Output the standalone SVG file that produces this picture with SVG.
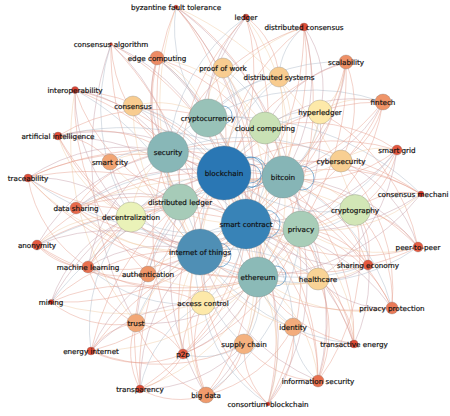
<svg xmlns="http://www.w3.org/2000/svg" width="450" height="416" viewBox="0 0 450 416">
<style>
.bg{fill:#ffffff}
#edges path{fill:none;stroke-width:0.75;opacity:0.6}
#edges .a{stroke:#e49a88}
#edges .b{stroke:#c29aa6}
#edges .c{stroke:#f0c9a0}
#edges .d{stroke:#aab8c6}
#loops circle{fill:none;stroke:#3f86bd;stroke-width:1;opacity:0.6}
.node circle{stroke:#777;stroke-width:0.5;stroke-opacity:0.6}
.node text{font-family:"DejaVu Sans",sans-serif;font-size:7.2px;fill:#111;text-anchor:middle;stroke:#111;stroke-width:0.18}
</style>
<rect class="bg" x="0" y="0" width="450" height="416"/>
<g id="edges">
<path class="a" d="M176 7A208 208 0 0 1 224 173"/>
<path class="b" d="M176 7A274 274 0 0 1 246 224"/>
<path class="c" d="M176 7A295 295 0 0 0 200 252"/>
<path class="a" d="M176 7A241 241 0 0 1 283 177"/>
<path class="d" d="M176 7A139 139 0 0 0 208 118"/>
<path class="a" d="M176 7A338 338 0 0 1 258 277"/>
<path class="b" d="M176 7A306 306 0 0 1 301 229"/>
<path class="a" d="M176 7A234 234 0 0 0 180 202"/>
<path class="c" d="M176 7A325 325 0 0 1 355 210"/>
<path class="b" d="M111 44A206 206 0 0 1 224 173"/>
<path class="a" d="M111 44A146 146 0 0 0 168 152"/>
<path class="b" d="M111 44A207 207 0 0 1 180 202"/>
<path class="a" d="M111 44A271 271 0 0 0 200 252"/>
<path class="d" d="M111 44A209 209 0 0 0 131 217"/>
<path class="a" d="M111 44A270 270 0 0 1 246 224"/>
<path class="b" d="M111 44A336 336 0 0 0 136 323"/>
<path class="a" d="M111 44A330 330 0 0 1 203 303"/>
<path class="a" d="M157 58A160 160 0 0 1 224 173"/>
<path class="c" d="M157 58A95 95 0 0 1 208 118"/>
<path class="b" d="M157 58A113 113 0 0 0 168 152"/>
<path class="a" d="M157 58A208 208 0 0 1 283 177"/>
<path class="d" d="M157 58A226 226 0 0 1 246 224"/>
<path class="a" d="M157 58A239 239 0 0 0 200 252"/>
<path class="c" d="M157 58A155 155 0 0 1 265 128"/>
<path class="b" d="M157 58A289 289 0 0 1 258 277"/>
<path class="a" d="M157 58A175 175 0 0 0 180 202"/>
<path class="a" d="M75 90A204 204 0 0 1 224 173"/>
<path class="b" d="M75 90A134 134 0 0 1 168 152"/>
<path class="a" d="M75 90A184 184 0 0 0 180 202"/>
<path class="d" d="M75 90A246 246 0 0 1 200 252"/>
<path class="a" d="M75 90A260 260 0 0 1 246 224"/>
<path class="b" d="M75 90A167 167 0 0 0 131 217"/>
<path class="a" d="M75 90A238 238 0 0 0 148 274"/>
<path class="c" d="M75 90A289 289 0 0 0 136 323"/>
<path class="a" d="M75 90A314 314 0 0 1 258 277"/>
<path class="b" d="M58 136A204 204 0 0 1 224 173"/>
<path class="a" d="M58 136A133 133 0 0 1 168 152"/>
<path class="a" d="M58 136A68 68 0 0 1 110 162"/>
<path class="c" d="M58 136A131 131 0 0 0 131 217"/>
<path class="a" d="M58 136A220 220 0 0 0 200 252"/>
<path class="b" d="M58 136A250 250 0 0 1 246 224"/>
<path class="d" d="M58 136A275 275 0 0 1 283 177"/>
<path class="a" d="M58 136A181 181 0 0 1 208 118"/>
<path class="a" d="M58 136A294 294 0 0 0 258 277"/>
<path class="a" d="M28 178A235 235 0 0 1 224 173"/>
<path class="b" d="M28 178A173 173 0 0 1 168 152"/>
<path class="a" d="M28 178A185 185 0 0 0 180 202"/>
<path class="c" d="M28 178A224 224 0 0 0 200 252"/>
<path class="a" d="M28 178A268 268 0 0 1 246 224"/>
<path class="b" d="M28 178A132 132 0 0 1 131 217"/>
<path class="a" d="M28 178A306 306 0 0 1 283 177"/>
<path class="a" d="M28 178A130 130 0 0 0 88 267"/>
<path class="d" d="M28 178A334 334 0 0 0 301 229"/>
<path class="a" d="M28 178A300 300 0 0 0 258 277"/>
<path class="b" d="M76 208A182 182 0 0 1 224 173"/>
<path class="a" d="M76 208A130 130 0 0 1 168 152"/>
<path class="c" d="M76 208A158 158 0 0 0 200 252"/>
<path class="a" d="M76 208A205 205 0 0 1 246 224"/>
<path class="b" d="M76 208A125 125 0 0 1 180 202"/>
<path class="a" d="M76 208A271 271 0 0 0 301 229"/>
<path class="d" d="M76 208A251 251 0 0 1 283 177"/>
<path class="a" d="M76 208A233 233 0 0 0 258 277"/>
<path class="c" d="M76 208A335 335 0 0 1 355 210"/>
<path class="a" d="M37 245A240 240 0 0 1 224 173"/>
<path class="b" d="M37 245A196 196 0 0 1 200 252"/>
<path class="a" d="M37 245A252 252 0 0 1 246 224"/>
<path class="c" d="M37 245A118 118 0 0 1 131 217"/>
<path class="a" d="M37 245A67 67 0 0 0 88 267"/>
<path class="b" d="M37 245A192 192 0 0 1 168 152"/>
<path class="a" d="M37 245A268 268 0 0 0 258 277"/>
<path class="d" d="M37 245A317 317 0 0 1 301 229"/>
<path class="a" d="M37 245A138 138 0 0 0 148 274"/>
<path class="a" d="M88 267A198 198 0 0 1 224 173"/>
<path class="b" d="M88 267A136 136 0 0 1 200 252"/>
<path class="a" d="M88 267A197 197 0 0 0 246 224"/>
<path class="c" d="M88 267A79 79 0 0 1 131 217"/>
<path class="a" d="M88 267A136 136 0 0 1 180 202"/>
<path class="b" d="M88 267A168 168 0 0 1 168 152"/>
<path class="a" d="M88 267A204 204 0 0 0 258 277"/>
<path class="a" d="M88 267A89 89 0 0 0 136 323"/>
<path class="d" d="M88 267A145 145 0 0 0 203 303"/>
<path class="a" d="M88 267A258 258 0 0 1 283 177"/>
<path class="b" d="M51 302A259 259 0 0 1 224 173"/>
<path class="a" d="M51 302A188 188 0 0 1 200 252"/>
<path class="a" d="M51 302A252 252 0 0 0 246 224"/>
<path class="c" d="M51 302A250 250 0 0 0 258 277"/>
<path class="a" d="M51 302A106 106 0 0 0 136 323"/>
<path class="b" d="M51 302A140 140 0 0 1 131 217"/>
<path class="a" d="M51 302A182 182 0 0 1 203 303"/>
<path class="d" d="M51 302A317 317 0 0 1 283 177"/>
<path class="a" d="M91 351A266 266 0 0 1 224 173"/>
<path class="b" d="M91 351A178 178 0 0 1 200 252"/>
<path class="a" d="M91 351A240 240 0 0 0 246 224"/>
<path class="c" d="M91 351A220 220 0 0 0 258 277"/>
<path class="a" d="M91 351A64 64 0 0 1 136 323"/>
<path class="a" d="M91 351A110 110 0 0 0 183 354"/>
<path class="b" d="M91 351A146 146 0 0 1 203 303"/>
<path class="a" d="M91 351A184 184 0 0 0 244 344"/>
<path class="d" d="M91 351A168 168 0 0 1 131 217"/>
<path class="a" d="M91 351A292 292 0 0 1 301 229"/>
<path class="a" d="M140 389A278 278 0 0 1 224 173"/>
<path class="b" d="M140 389A180 180 0 0 1 200 252"/>
<path class="a" d="M140 389A235 235 0 0 0 246 224"/>
<path class="c" d="M140 389A196 196 0 0 0 258 277"/>
<path class="a" d="M140 389A79 79 0 0 1 136 323"/>
<path class="a" d="M140 389A66 66 0 0 0 183 354"/>
<path class="d" d="M140 389A127 127 0 0 1 203 303"/>
<path class="a" d="M140 389A80 80 0 0 0 206 395"/>
<path class="b" d="M140 389A136 136 0 0 0 244 344"/>
<path class="a" d="M140 389A229 229 0 0 1 180 202"/>
<path class="a" d="M183 354A223 223 0 0 1 224 173"/>
<path class="c" d="M183 354A124 124 0 0 1 200 252"/>
<path class="a" d="M183 354A174 174 0 0 0 246 224"/>
<path class="b" d="M183 354A129 129 0 0 0 258 277"/>
<path class="a" d="M183 354A66 66 0 0 1 203 303"/>
<path class="a" d="M183 354A68 68 0 0 0 136 323"/>
<path class="d" d="M183 354A74 74 0 0 0 244 344"/>
<path class="a" d="M183 354A206 206 0 0 0 301 229"/>
<path class="b" d="M183 354A244 244 0 0 0 283 177"/>
<path class="a" d="M183 354A243 243 0 0 1 168 152"/>
<path class="a" d="M206 395A268 268 0 0 1 224 173"/>
<path class="c" d="M206 395A172 172 0 0 1 200 252"/>
<path class="a" d="M206 395A211 211 0 0 0 246 224"/>
<path class="b" d="M206 395A155 155 0 0 0 258 277"/>
<path class="a" d="M206 395A76 76 0 0 0 244 344"/>
<path class="a" d="M206 395A110 110 0 0 1 203 303"/>
<path class="d" d="M206 395A229 229 0 0 0 301 229"/>
<path class="a" d="M206 395A132 132 0 0 0 293 327"/>
<path class="b" d="M206 395A234 234 0 0 1 180 202"/>
<path class="a" d="M206 395A120 120 0 0 1 136 323"/>
<path class="a" d="M268 404A282 282 0 0 0 224 173"/>
<path class="b" d="M268 404A218 218 0 0 0 246 224"/>
<path class="a" d="M268 404A200 200 0 0 1 200 252"/>
<path class="c" d="M268 404A153 153 0 0 0 258 277"/>
<path class="a" d="M268 404A78 78 0 0 1 244 344"/>
<path class="a" d="M268 404A97 97 0 0 0 293 327"/>
<path class="d" d="M268 404A144 144 0 0 1 203 303"/>
<path class="a" d="M268 404A273 273 0 0 0 283 177"/>
<path class="b" d="M268 404A214 214 0 0 0 301 229"/>
<path class="a" d="M318 381A274 274 0 0 0 224 173"/>
<path class="a" d="M318 381A207 207 0 0 0 246 224"/>
<path class="b" d="M318 381A210 210 0 0 1 200 252"/>
<path class="c" d="M318 381A144 144 0 0 0 258 277"/>
<path class="a" d="M318 381A184 184 0 0 0 301 229"/>
<path class="d" d="M318 381A71 71 0 0 1 293 327"/>
<path class="a" d="M318 381A122 122 0 0 0 318 279"/>
<path class="b" d="M318 381A248 248 0 0 0 283 177"/>
<path class="a" d="M318 381A99 99 0 0 1 244 344"/>
<path class="a" d="M318 381A210 210 0 0 0 355 210"/>
<path class="a" d="M354 344A258 258 0 0 0 224 173"/>
<path class="b" d="M354 344A194 194 0 0 0 246 224"/>
<path class="a" d="M354 344A141 141 0 0 1 258 277"/>
<path class="c" d="M354 344A152 152 0 0 0 301 229"/>
<path class="a" d="M354 344A89 89 0 0 0 318 279"/>
<path class="d" d="M354 344A215 215 0 0 1 200 252"/>
<path class="a" d="M354 344A218 218 0 0 0 283 177"/>
<path class="b" d="M354 344A161 161 0 0 0 355 210"/>
<path class="a" d="M354 344A76 76 0 0 1 293 327"/>
<path class="a" d="M354 344A321 321 0 0 0 168 152"/>
<path class="a" d="M392 308A258 258 0 0 0 224 173"/>
<path class="b" d="M392 308A202 202 0 0 0 246 224"/>
<path class="a" d="M392 308A145 145 0 0 0 301 229"/>
<path class="c" d="M392 308A165 165 0 0 1 258 277"/>
<path class="a" d="M392 308A240 240 0 0 1 200 252"/>
<path class="d" d="M392 308A205 205 0 0 0 283 177"/>
<path class="a" d="M392 308A126 126 0 0 0 355 210"/>
<path class="b" d="M392 308A95 95 0 0 1 318 279"/>
<path class="a" d="M392 308A187 187 0 0 0 341 161"/>
<path class="a" d="M368 265A205 205 0 0 0 224 173"/>
<path class="b" d="M368 265A154 154 0 0 1 246 224"/>
<path class="a" d="M368 265A91 91 0 0 0 301 229"/>
<path class="c" d="M368 265A133 133 0 0 1 258 277"/>
<path class="a" d="M368 265A147 147 0 0 0 283 177"/>
<path class="d" d="M368 265A202 202 0 0 1 200 252"/>
<path class="a" d="M368 265A68 68 0 0 0 355 210"/>
<path class="b" d="M368 265A62 62 0 0 1 318 279"/>
<path class="a" d="M418 247A250 250 0 0 0 224 173"/>
<path class="a" d="M418 247A208 208 0 0 1 246 224"/>
<path class="b" d="M418 247A182 182 0 0 0 283 177"/>
<path class="c" d="M418 247A142 142 0 0 1 301 229"/>
<path class="a" d="M418 247A88 88 0 0 0 355 210"/>
<path class="d" d="M418 247A195 195 0 0 1 258 277"/>
<path class="a" d="M418 247A262 262 0 0 1 200 252"/>
<path class="b" d="M418 247A138 138 0 0 0 341 161"/>
<path class="a" d="M418 247A200 200 0 0 0 320 112"/>
<path class="a" d="M421 194A238 238 0 0 0 224 173"/>
<path class="b" d="M421 194A213 213 0 0 1 246 224"/>
<path class="a" d="M421 194A167 167 0 0 0 283 177"/>
<path class="c" d="M421 194A150 150 0 0 1 301 229"/>
<path class="a" d="M421 194A82 82 0 0 0 355 210"/>
<path class="d" d="M421 194A271 271 0 0 0 208 118"/>
<path class="a" d="M421 194A308 308 0 0 0 168 152"/>
<path class="b" d="M421 194A219 219 0 0 1 258 277"/>
<path class="a" d="M397 150A210 210 0 0 0 224 173"/>
<path class="a" d="M397 150A141 141 0 0 1 283 177"/>
<path class="b" d="M397 150A202 202 0 0 1 246 224"/>
<path class="c" d="M397 150A69 69 0 0 0 341 161"/>
<path class="a" d="M397 150A88 88 0 0 1 355 210"/>
<path class="d" d="M397 150A266 266 0 0 1 200 252"/>
<path class="a" d="M397 150A149 149 0 0 1 301 229"/>
<path class="b" d="M397 150A182 182 0 0 1 318 279"/>
<path class="a" d="M397 150A161 161 0 0 0 265 128"/>
<path class="a" d="M383 102A209 209 0 0 0 224 173"/>
<path class="b" d="M383 102A150 150 0 0 1 283 177"/>
<path class="c" d="M383 102A77 77 0 0 0 320 112"/>
<path class="a" d="M383 102A220 220 0 0 1 246 224"/>
<path class="d" d="M383 102A211 211 0 0 0 208 118"/>
<path class="a" d="M383 102A87 87 0 0 1 341 161"/>
<path class="b" d="M383 102A145 145 0 0 0 265 128"/>
<path class="a" d="M383 102A181 181 0 0 1 301 229"/>
<path class="a" d="M383 102A272 272 0 0 1 180 202"/>
<path class="a" d="M346 62A198 198 0 0 0 224 173"/>
<path class="b" d="M346 62A157 157 0 0 1 283 177"/>
<path class="c" d="M346 62A68 68 0 0 1 320 112"/>
<path class="a" d="M346 62A228 228 0 0 1 246 224"/>
<path class="d" d="M346 62A179 179 0 0 0 208 118"/>
<path class="a" d="M346 62A288 288 0 0 1 200 252"/>
<path class="b" d="M346 62A125 125 0 0 0 265 128"/>
<path class="a" d="M346 62A279 279 0 0 1 258 277"/>
<path class="a" d="M346 62A119 119 0 0 1 341 161"/>
<path class="a" d="M304 27A199 199 0 0 0 224 173"/>
<path class="b" d="M304 27A182 182 0 0 1 283 177"/>
<path class="c" d="M304 27A159 159 0 0 0 208 118"/>
<path class="a" d="M304 27A246 246 0 0 1 246 224"/>
<path class="d" d="M304 27A67 67 0 0 0 279 77"/>
<path class="a" d="M304 27A297 297 0 0 1 200 252"/>
<path class="b" d="M304 27A104 104 0 0 1 320 112"/>
<path class="a" d="M304 27A222 222 0 0 0 168 152"/>
<path class="a" d="M304 27A305 305 0 0 1 258 277"/>
<path class="a" d="M246 17A188 188 0 0 1 224 173"/>
<path class="b" d="M246 17A130 130 0 0 0 208 118"/>
<path class="c" d="M246 17A197 197 0 0 1 283 177"/>
<path class="a" d="M246 17A248 248 0 0 1 246 224"/>
<path class="d" d="M246 17A187 187 0 0 0 168 152"/>
<path class="a" d="M246 17A82 82 0 0 1 279 77"/>
<path class="b" d="M246 17A287 287 0 0 0 200 252"/>
<path class="a" d="M246 17A236 236 0 0 0 180 202"/>
<path class="d" d="M168 152A62 62 0 0 1 208 118"/>
<path class="c" d="M168 152A62 62 0 0 0 180 202"/>
<path class="d" d="M168 152A126 126 0 0 0 200 252"/>
<path class="b" d="M168 152A127 127 0 0 1 246 224"/>
<path class="d" d="M168 152A141 141 0 0 1 283 177"/>
<path class="c" d="M208 118A115 115 0 0 1 283 177"/>
<path class="d" d="M208 118A70 70 0 0 1 265 128"/>
<path class="b" d="M208 118A135 135 0 0 1 246 224"/>
<path class="c" d="M208 118A200 200 0 0 1 258 277"/>
<path class="d" d="M283 177A72 72 0 0 1 246 224"/>
<path class="c" d="M283 177A124 124 0 0 1 258 277"/>
<path class="d" d="M283 177A66 66 0 0 1 301 229"/>
<path class="b" d="M283 177A72 72 0 0 1 341 161"/>
<path class="c" d="M283 177A95 95 0 0 1 355 210"/>
<path class="d" d="M246 224A65 65 0 0 1 200 252"/>
<path class="c" d="M246 224A65 65 0 0 1 258 277"/>
<path class="d" d="M246 224A66 66 0 0 1 301 229"/>
<path class="b" d="M246 224A84 84 0 0 0 180 202"/>
<path class="d" d="M200 252A76 76 0 0 0 258 277"/>
<path class="c" d="M200 252A65 65 0 0 1 180 202"/>
<path class="d" d="M200 252A93 93 0 0 1 131 217"/>
<path class="c" d="M200 252A68 68 0 0 0 148 274"/>
<path class="d" d="M200 252A61 61 0 0 0 203 303"/>
<path class="c" d="M180 202A62 62 0 0 0 131 217"/>
<path class="d" d="M301 229A69 69 0 0 0 355 210"/>
<path class="c" d="M301 229A77 77 0 0 1 258 277"/>
<path class="d" d="M301 229A63 63 0 0 1 318 279"/>
<path class="c" d="M258 277A72 72 0 0 0 318 279"/>
<path class="d" d="M258 277A82 82 0 0 1 244 344"/>
<path class="c" d="M258 277A73 73 0 0 0 293 327"/>
<path class="d" d="M203 303A108 108 0 0 0 246 224"/>
<path class="c" d="M203 303A72 72 0 0 0 258 277"/>
<path class="d" d="M320 112A85 85 0 0 1 283 177"/>
<path class="c" d="M320 112A158 158 0 0 1 246 224"/>
<path class="b" d="M320 112A204 204 0 0 1 258 277"/>
<path class="d" d="M320 112A69 69 0 0 0 265 128"/>
<path class="c" d="M265 128A63 63 0 0 1 283 177"/>
<path class="d" d="M265 128A117 117 0 0 1 246 224"/>
<path class="c" d="M265 128A168 168 0 0 0 200 252"/>
<path class="d" d="M341 161A208 208 0 0 0 168 152"/>
<path class="c" d="M355 210A132 132 0 0 1 246 224"/>
<path class="d" d="M131 217A138 138 0 0 0 246 224"/>
<path class="c" d="M131 217A90 90 0 0 1 168 152"/>
<path class="b" d="M133 106A70 70 0 0 1 168 152"/>
<path class="c" d="M133 106A91 91 0 0 1 208 118"/>
<path class="d" d="M133 106A196 196 0 0 1 246 224"/>
<path class="c" d="M133 106A192 192 0 0 0 200 252"/>
<path class="d" d="M133 106A136 136 0 0 1 224 173"/>
<path class="c" d="M223 68A61 61 0 0 0 208 118"/>
<path class="d" d="M223 68A149 149 0 0 1 283 177"/>
<path class="b" d="M223 68A189 189 0 0 1 246 224"/>
<path class="c" d="M223 68A252 252 0 0 1 258 277"/>
<path class="d" d="M279 77A104 104 0 0 0 208 118"/>
<path class="c" d="M279 77A181 181 0 0 1 246 224"/>
<path class="d" d="M279 77A228 228 0 0 0 200 252"/>
<path class="c" d="M279 77A120 120 0 0 1 283 177"/>
<path class="b" d="M110 162A128 128 0 0 0 200 252"/>
<path class="d" d="M110 162A71 71 0 0 1 168 152"/>
<path class="c" d="M110 162A174 174 0 0 0 246 224"/>
<path class="d" d="M136 323A115 115 0 0 1 200 252"/>
<path class="c" d="M136 323A175 175 0 0 1 246 224"/>
<path class="b" d="M136 323A151 151 0 0 0 258 277"/>
<path class="d" d="M148 274A134 134 0 0 1 246 224"/>
<path class="c" d="M148 274A132 132 0 0 0 258 277"/>
<path class="d" d="M293 327A132 132 0 0 0 246 224"/>
<path class="c" d="M293 327A144 144 0 0 1 200 252"/>
<path class="d" d="M244 344A122 122 0 0 1 200 252"/>
<path class="c" d="M244 344A144 144 0 0 0 246 224"/>
<path class="d" d="M318 279A149 149 0 0 0 200 252"/>
<path class="c" d="M318 279A110 110 0 0 0 246 224"/>
<path class="d" d="M224 173A136 136 0 0 1 320 112"/>
<path class="c" d="M224 173A142 142 0 0 0 341 161"/>
<path class="d" d="M224 173A162 162 0 0 0 355 210"/>
<path class="c" d="M224 173A166 166 0 0 0 318 279"/>
<path class="d" d="M224 173A196 196 0 0 0 293 327"/>
<path class="c" d="M224 173A206 206 0 0 1 244 344"/>
<path class="b" d="M224 173A207 207 0 0 0 136 323"/>
<path class="d" d="M224 173A151 151 0 0 0 148 274"/>
<path class="c" d="M224 173A157 157 0 0 1 203 303"/>
<path class="d" d="M224 173A126 126 0 0 0 131 217"/>
<path class="c" d="M224 173A114 114 0 0 0 110 162"/>
<path class="d" d="M224 173A105 105 0 0 0 223 68"/>
<path class="c" d="M224 173A110 110 0 0 1 279 77"/>
</g>
<g id="loops">
<circle cx="250" cy="170" r="13"/>
<circle cx="252" cy="172" r="15"/>
<circle cx="249" cy="176" r="12"/>
<circle cx="302" cy="178" r="12"/>
<circle cx="266" cy="224" r="14"/>
<circle cx="219" cy="255" r="12"/>
<circle cx="276" cy="276" r="10"/>
<circle cx="223" cy="115" r="9"/>
</g>
<g id="n-consortium-blockchain" class="node"><circle cx="268" cy="404" r="2" fill="#d7301f"/><text x="268" y="406.5">consortium blockchain</text></g>
<g id="n-consensus-algorithm" class="node"><circle cx="111" cy="44" r="1.5" fill="#d7301f"/><text x="111" y="46.5">consensus algorithm</text></g>
<g id="n-byzantine-fault-tolerance" class="node"><circle cx="176" cy="7" r="2" fill="#d7301f"/><text x="176" y="9.5">byzantine fault tolerance</text></g>
<g id="n-mining" class="node"><circle cx="51" cy="302" r="2.5" fill="#d7301f"/><text x="51" y="304.5">mining</text></g>
<g id="n-consensus-mechanism" class="node"><circle cx="421" cy="194" r="3" fill="#dc3a2c"/><text x="448.5" y="196.5" style="text-anchor:end">consensus mechani</text></g>
<g id="n-ledger" class="node"><circle cx="246" cy="17" r="3" fill="#dc4232"/><text x="246" y="19.5">ledger</text></g>
<g id="n-interoperability" class="node"><circle cx="75" cy="90" r="3.5" fill="#dc4232"/><text x="75" y="92.5">interoperability</text></g>
<g id="n-distributed-consensus" class="node"><circle cx="304" cy="27" r="4" fill="#e04c36"/><text x="304" y="29.5">distributed consensus</text></g>
<g id="n-transactive-energy" class="node"><circle cx="354" cy="344" r="4" fill="#df4a34"/><text x="354" y="346.5">transactive energy</text></g>
<g id="n-energy-internet" class="node"><circle cx="91" cy="351" r="4" fill="#e04c36"/><text x="91" y="353.5">energy internet</text></g>
<g id="n-transparency" class="node"><circle cx="140" cy="389" r="4" fill="#df4a34"/><text x="140" y="391.5">transparency</text></g>
<g id="n-artificial-intelligence" class="node"><circle cx="58" cy="136" r="4" fill="#e04c36"/><text x="58" y="138.5">artificial intelligence</text></g>
<g id="n-traceability" class="node"><circle cx="28" cy="178" r="4" fill="#e04c36"/><text x="28" y="180.5">traceability</text></g>
<g id="n-anonymity" class="node"><circle cx="37" cy="245" r="5" fill="#e4583f"/><text x="37" y="247.5">anonymity</text></g>
<g id="n-smart-grid" class="node"><circle cx="397" cy="150" r="5" fill="#e4583f"/><text x="397" y="152.5">smart grid</text></g>
<g id="n-peer-to-peer" class="node"><circle cx="418" cy="247" r="5" fill="#e65e44"/><text x="418" y="249.5">peer-to-peer</text></g>
<g id="n-sharing-economy" class="node"><circle cx="368" cy="265" r="5" fill="#e4583f"/><text x="368" y="267.5">sharing economy</text></g>
<g id="n-p2p" class="node"><circle cx="183" cy="354" r="5" fill="#e35840"/><text x="183" y="356.5">p2p</text></g>
<g id="n-machine-learning" class="node"><circle cx="88" cy="267" r="6" fill="#e8704f"/><text x="88" y="269.5">machine learning</text></g>
<g id="n-data-sharing" class="node"><circle cx="76" cy="208" r="6" fill="#e76a4c"/><text x="76" y="210.5">data sharing</text></g>
<g id="n-privacy-protection" class="node"><circle cx="392" cy="308" r="6" fill="#ea7a58"/><text x="392" y="310.5">privacy protection</text></g>
<g id="n-information-security" class="node"><circle cx="318" cy="381" r="6" fill="#e8704f"/><text x="318" y="383.5">information security</text></g>
<g id="n-edge-computing" class="node"><circle cx="157" cy="58" r="7" fill="#ec8b65"/><text x="157" y="60.5">edge computing</text></g>
<g id="n-scalability" class="node"><circle cx="346" cy="62" r="7" fill="#ee9066"/><text x="346" y="64.5">scalability</text></g>
<g id="n-fintech" class="node"><circle cx="383" cy="102" r="8" fill="#ef9468"/><text x="383" y="104.5">fintech</text></g>
<g id="n-authentication" class="node"><circle cx="148" cy="274" r="8" fill="#ee9568"/><text x="148" y="276.5">authentication</text></g>
<g id="n-big-data" class="node"><circle cx="206" cy="395" r="8" fill="#ef9a6c"/><text x="206" y="397.5">big data</text></g>
<g id="n-smart-city" class="node"><circle cx="110" cy="162" r="8" fill="#f2a574"/><text x="110" y="164.5">smart city</text></g>
<g id="n-trust" class="node"><circle cx="136" cy="323" r="9" fill="#f2a776"/><text x="136" y="325.5">trust</text></g>
<g id="n-identity" class="node"><circle cx="293" cy="327" r="9" fill="#f3ac7c"/><text x="293" y="329.5">identity</text></g>
<g id="n-supply-chain" class="node"><circle cx="244" cy="344" r="10" fill="#f4b27f"/><text x="244" y="346.5">supply chain</text></g>
<g id="n-consensus" class="node"><circle cx="133" cy="106" r="10" fill="#f8cc90"/><text x="133" y="108.5">consensus</text></g>
<g id="n-proof-of-work" class="node"><circle cx="223" cy="68" r="10" fill="#f8cc90"/><text x="223" y="70.5">proof of work</text></g>
<g id="n-distributed-systems" class="node"><circle cx="279" cy="77" r="10" fill="#f8cc90"/><text x="279" y="79.5">distributed systems</text></g>
<g id="n-cybersecurity" class="node"><circle cx="341" cy="161" r="11" fill="#f8cf92"/><text x="341" y="163.5">cybersecurity</text></g>
<g id="n-healthcare" class="node"><circle cx="318" cy="279" r="11" fill="#f9d396"/><text x="318" y="281.5">healthcare</text></g>
<g id="n-hyperledger" class="node"><circle cx="320" cy="112" r="12" fill="#fde9a9"/><text x="320" y="114.5">hyperledger</text></g>
<g id="n-access-control" class="node"><circle cx="203" cy="303" r="12" fill="#fde9a9"/><text x="203" y="305.5">access control</text></g>
<g id="n-decentralization" class="node"><circle cx="131" cy="217" r="15" fill="#eaf2b8"/><text x="131" y="219.5">decentralization</text></g>
<g id="n-cryptography" class="node"><circle cx="355" cy="210" r="15.5" fill="#d2e6b6"/><text x="355" y="212.5">cryptography</text></g>
<g id="n-cloud-computing" class="node"><circle cx="265" cy="128" r="16" fill="#c9e1b5"/><text x="265" y="130.5">cloud computing</text></g>
<g id="n-distributed-ledger" class="node"><circle cx="180" cy="202" r="18" fill="#a6cbb8"/><text x="180" y="204.5">distributed ledger</text></g>
<g id="n-privacy" class="node"><circle cx="301" cy="229" r="18" fill="#a8cdb8"/><text x="301" y="231.5">privacy</text></g>
<g id="n-cryptocurrency" class="node"><circle cx="208" cy="118" r="19" fill="#98c2b8"/><text x="208" y="120.5">cryptocurrency</text></g>
<g id="n-ethereum" class="node"><circle cx="258" cy="277" r="20" fill="#8bbab7"/><text x="258" y="279.5">ethereum</text></g>
<g id="n-security" class="node"><circle cx="168" cy="152" r="20.5" fill="#88b7b7"/><text x="168" y="154.5">security</text></g>
<g id="n-bitcoin" class="node"><circle cx="283" cy="177" r="21" fill="#86b5b6"/><text x="283" y="179.5">bitcoin</text></g>
<g id="n-internet-of-things" class="node"><circle cx="200" cy="252" r="23" fill="#4f8fb5"/><text x="200" y="254.5">internet of things</text></g>
<g id="n-smart-contract" class="node"><circle cx="246" cy="224" r="25" fill="#3883b7"/><text x="246" y="226.5">smart contract</text></g>
<g id="n-blockchain" class="node"><circle cx="224" cy="173" r="27" fill="#2a77b4"/><text x="224" y="175.5">blockchain</text></g>
</svg>
